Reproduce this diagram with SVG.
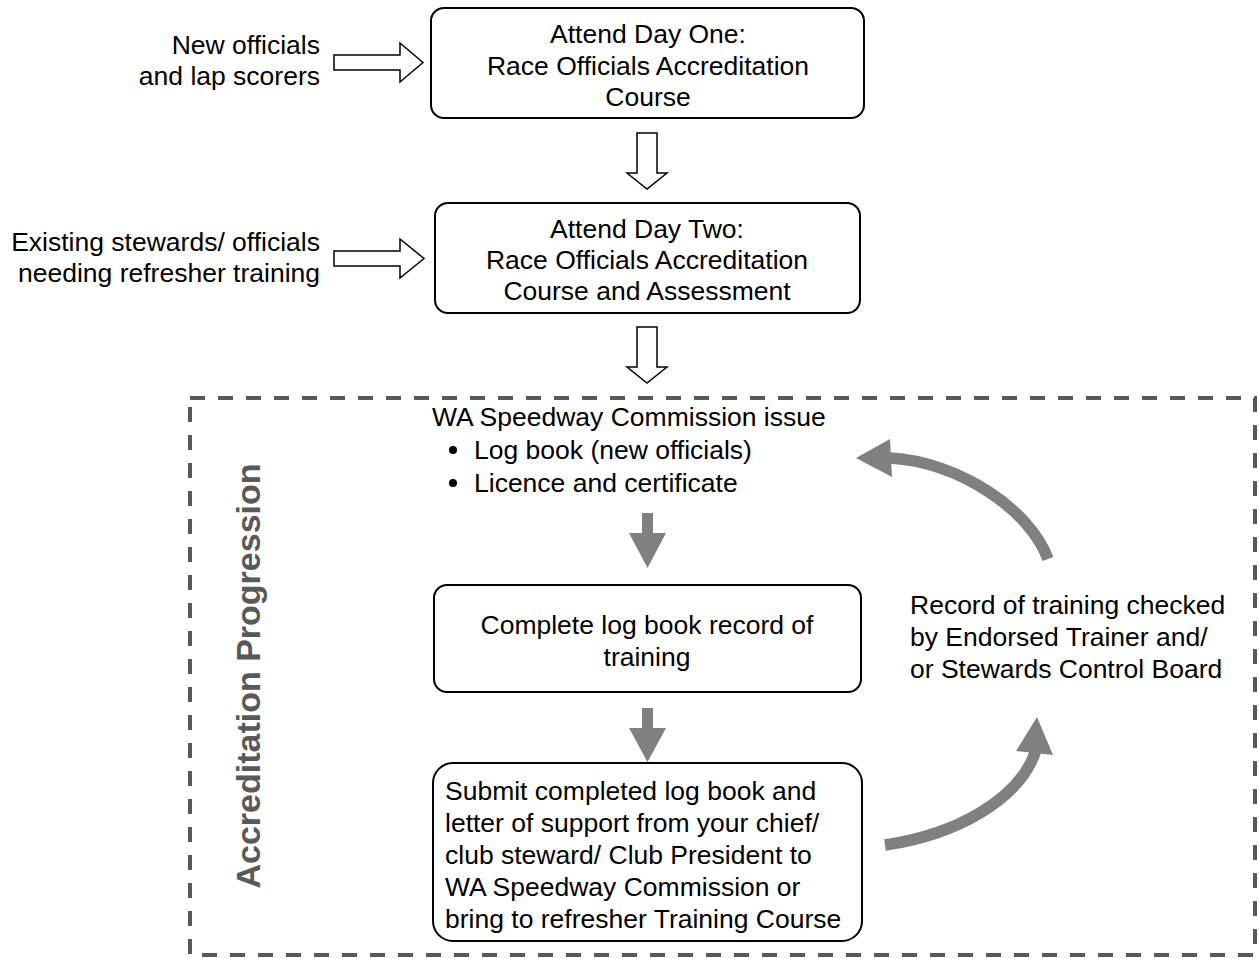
<svg xmlns="http://www.w3.org/2000/svg" width="1259" height="958" viewBox="0 0 1259 958">
<style>
.t{font-family:"Liberation Sans",Arial,sans-serif;font-size:26.5px;fill:#000}
.c{text-anchor:middle}
.r{text-anchor:end}
.box{fill:#fff;stroke:#000;stroke-width:2}
.hol{fill:#fff;stroke:#000;stroke-width:1.5;stroke-linejoin:miter}
.ga{fill:#808080;stroke:none}
.gc{fill:none;stroke:#808080;stroke-width:11.5}
</style>
<rect width="1259" height="958" fill="#fff"/>
<g id="frame">
<rect x="190" y="398" width="1065" height="557" fill="none" stroke="#595959" stroke-width="4" stroke-dasharray="15 13"/>
<text x="0" y="0" transform="translate(260,676) rotate(-90)" text-anchor="middle" style="font-family:'Liberation Sans',Arial,sans-serif;font-size:34px;font-weight:bold;fill:#595959">Accreditation Progression</text>
</g>
<g id="connectors">
<polygon class="hol" points="334,55 400,55 400,43 423,62.5 400,82 400,70 334,70"/>
<polygon class="hol" points="334,251 400,251 400,239 424,258.5 400,278 400,266 334,266"/>
<polygon class="hol" points="637,133 657,133 657,173 667,173 647,189 627,173 637,173"/>
<polygon class="hol" points="637,327 657,327 657,367 667,367 647,383 627,367 637,367"/>
<polygon class="ga" points="642,513 653,513 653,533 666,533 647.5,568 629,533 642,533"/>
<polygon class="ga" points="642,708 653,708 653,728 666,728 647.5,762 629,728 642,728"/>
<path class="gc" d="M1048,559 C1030,510 960,462 890,458"/>
<polygon class="ga" points="856,458 890,439 892,477"/>
<path class="gc" d="M885,845 C955,835 1020,800 1036,750"/>
<polygon class="ga" points="1037,717 1016,751 1053,755"/>
</g>
<g id="label-new">
<text class="t r" x="320" y="54">New officials</text>
<text class="t r" x="320" y="85">and lap scorers</text>
</g>
<g id="label-existing">
<text class="t r" x="320" y="251">Existing stewards/ officials</text>
<text class="t r" x="320" y="282">needing refresher training</text>
</g>
<g id="day-one">
<rect class="box" x="431" y="8" width="433" height="110" rx="13"/>
<text class="t c" x="648" y="43">Attend Day One:</text>
<text class="t c" x="648" y="75">Race Officials Accreditation</text>
<text class="t c" x="648" y="106">Course</text>
</g>
<g id="day-two">
<rect class="box" x="435" y="203" width="425" height="110" rx="13"/>
<text class="t c" x="647" y="238">Attend Day Two:</text>
<text class="t c" x="647" y="269">Race Officials Accreditation</text>
<text class="t c" x="647" y="300">Course and Assessment</text>
</g>
<g id="issue">
<text class="t" x="432" y="426">WA Speedway Commission issue</text>
<circle cx="453" cy="450" r="4"/>
<text class="t" x="474" y="459">Log book (new officials)</text>
<circle cx="453" cy="483" r="4"/>
<text class="t" x="474" y="492">Licence and certificate</text>
</g>
<g id="logbook">
<rect class="box" x="434" y="585" width="427" height="107" rx="13"/>
<text class="t c" x="647" y="634">Complete log book record of</text>
<text class="t c" x="647" y="666">training</text>
</g>
<g id="submit">
<rect class="box" x="433" y="763" width="429" height="178" rx="20"/>
<text class="t" x="445" y="800">Submit completed log book and</text>
<text class="t" x="445" y="832">letter of support from your chief/</text>
<text class="t" x="445" y="864">club steward/ Club President to</text>
<text class="t" x="445" y="896">WA Speedway Commission or</text>
<text class="t" x="445" y="928">bring to refresher Training Course</text>
</g>
<g id="record">
<text class="t" x="910" y="614">Record of training checked</text>
<text class="t" x="910" y="646">by Endorsed Trainer and/</text>
<text class="t" x="910" y="678">or Stewards Control Board</text>
</g>
</svg>
